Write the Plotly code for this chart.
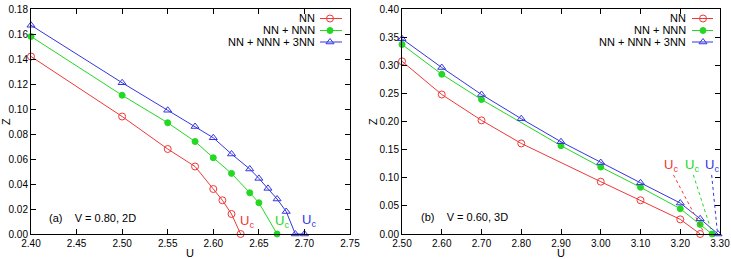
import plotly.graph_objects as go

W, H = 731, 259

# ---------------- data: panel (a) V = 0.80, 2D ----------------
a_nn_u = [2.40, 2.50, 2.55, 2.58, 2.60, 2.61, 2.62, 2.63]
a_nn_z = [0.142, 0.094, 0.068, 0.054, 0.036, 0.027, 0.016, 0.000]
a_nnn_u = [2.40, 2.50, 2.55, 2.58, 2.60, 2.62, 2.64, 2.65, 2.67]
a_nnn_z = [0.158, 0.111, 0.089, 0.074, 0.061, 0.0485, 0.033, 0.025, 0.000]
a_3nn_u = [2.40, 2.50, 2.55, 2.58, 2.60, 2.62, 2.64, 2.65, 2.66, 2.67, 2.68, 2.69, 2.70]
a_3nn_z = [0.167, 0.121, 0.099, 0.086, 0.077, 0.064, 0.052, 0.0445, 0.0365, 0.028, 0.018, 0.000, 0.000]

# ---------------- data: panel (b) V = 0.60, 3D ----------------
b_nn_u = [2.50, 2.60, 2.70, 2.80, 3.00, 3.10, 3.20, 3.25]
b_nn_z = [0.307, 0.248, 0.202, 0.161, 0.093, 0.060, 0.026, 0.000]
b_nnn_u = [2.50, 2.60, 2.70, 2.90, 3.00, 3.10, 3.20, 3.25, 3.28]
b_nnn_z = [0.337, 0.284, 0.239, 0.157, 0.119, 0.083, 0.045, 0.017, 0.000]
b_3nn_u = [2.50, 2.60, 2.70, 2.80, 2.90, 3.00, 3.10, 3.20, 3.25, 3.295]
b_3nn_z = [0.347, 0.296, 0.248, 0.205, 0.164, 0.127, 0.091, 0.055, 0.027, 0.000]

series_names = ["NN", "NN + NNN", "NN + NNN + 3NN"]
colors = ["#f03838", "#22d822", "#3535e0"]
symbols = ["circle-open", "circle", "triangle-up-open"]
msizes = [7, 6, 7]

a_ticks_x = [2.40, 2.45, 2.50, 2.55, 2.60, 2.65, 2.70, 2.75]
a_ticks_y = [0.00, 0.02, 0.04, 0.06, 0.08, 0.10, 0.12, 0.14, 0.16, 0.18]
b_ticks_x = [2.50, 2.60, 2.70, 2.80, 2.90, 3.00, 3.10, 3.20, 3.30]
b_ticks_y = [0.00, 0.05, 0.10, 0.15, 0.20, 0.25, 0.30, 0.35, 0.40]

# Uc label positions (data coords)
a_uc_x = [2.637, 2.675, 2.705]
a_uc_y = [0.0098, 0.0098, 0.011]
b_uc_x = [3.177, 3.229, 3.280]
b_uc_y = [0.121, 0.121, 0.121]
# dotted guide lines in panel (b): start (below label) -> end (Uc point)
b_dot_x0 = [3.183, 3.233, 3.279]
b_dot_y0 = [0.105, 0.105, 0.105]
b_dot_x1 = [3.257, 3.278, 3.293]
b_dot_y1 = [0.006, 0.006, 0.006]

FONT = "Liberation Sans, Arial, sans-serif"

fig = go.Figure()

panels = [
    ("x", "y", [(a_nn_u, a_nn_z), (a_nnn_u, a_nnn_z), (a_3nn_u, a_3nn_z)]),
    ("x2", "y2", [(b_nn_u, b_nn_z), (b_nnn_u, b_nnn_z), (b_3nn_u, b_3nn_z)]),
]
for xa, ya, data in panels:
    for i, (u, z) in enumerate(data):
        fig.add_trace(go.Scatter(
            x=u, y=z, xaxis=xa, yaxis=ya, mode="lines+markers",
            name=series_names[i], showlegend=False,
            line=dict(color=colors[i], width=1),
            marker=dict(symbol=symbols[i], size=msizes[i], color=colors[i],
                        line=dict(color=colors[i], width=1)),
            cliponaxis=False,
        ))

# manual legend (symbol on the right of right-aligned text), pixel overlay axis
leg_rows = [18.5, 30.5, 42]
leg_sets = [(317, 320, 342, 330), (688, 692, 713, 703)]
annotations = []
for (tx, lx0, lx1, mx) in leg_sets:
    for i, yy in enumerate(leg_rows):
        fig.add_trace(go.Scatter(
            x=[lx0, lx1], y=[yy, yy], xaxis="x3", yaxis="y3", mode="lines",
            line=dict(color=colors[i], width=1), showlegend=False, hoverinfo="skip"))
        fig.add_trace(go.Scatter(
            x=[mx], y=[yy], xaxis="x3", yaxis="y3", mode="markers",
            marker=dict(symbol=symbols[i], size=msizes[i], color=colors[i],
                        line=dict(color=colors[i], width=1)),
            showlegend=False, hoverinfo="skip"))
        annotations.append(dict(
            x=tx / W, y=1 - yy / H, xref="paper", yref="paper",
            xanchor="right", yanchor="middle", showarrow=False,
            text=series_names[i], font=dict(family=FONT, size=11, color="#000")))

# Uc labels
for xs, ys, xr, yr in [(a_uc_x, a_uc_y, "x", "y"), (b_uc_x, b_uc_y, "x2", "y2")]:
    for i in range(3):
        annotations.append(dict(
            x=xs[i], y=ys[i], xref=xr, yref=yr, showarrow=False,
            xanchor="center", yanchor="middle",
            text="U<sub>c</sub>", font=dict(family=FONT, size=13, color=colors[i])))

shapes = []
for i in range(3):
    shapes.append(dict(type="line", xref="x2", yref="y2",
                       x0=b_dot_x0[i], y0=b_dot_y0[i], x1=b_dot_x1[i], y1=b_dot_y1[i],
                       line=dict(color=colors[i], width=1, dash="dot")))

# panel labels
annotations.append(dict(x=2.418, y=0.013, xref="x", yref="y", showarrow=False,
                        xanchor="left", yanchor="middle",
                        text="(a)&nbsp;&nbsp;&nbsp;&nbsp;V = 0.80, 2D",
                        font=dict(family=FONT, size=11, color="#000")))
annotations.append(dict(x=2.5435, y=0.030, xref="x2", yref="y2", showarrow=False,
                        xanchor="left", yanchor="middle",
                        text="(b)&nbsp;&nbsp;&nbsp;&nbsp;V = 0.60, 3D",
                        font=dict(family=FONT, size=11, color="#000")))

# axis titles
for px, py, txt, ang in [(6, 122, "Z", -90), (373, 122, "Z", -90),
                         (190, 253, "U", 0), (561, 253, "U", 0)]:
    annotations.append(dict(x=px / W, y=1 - py / H, xref="paper", yref="paper",
                            showarrow=False, xanchor="center", yanchor="middle",
                            textangle=ang, text=txt,
                            font=dict(family=FONT, size=11, color="#000")))

ydom = [1 - 234 / H, 1 - 9 / H]
axis_common = dict(showline=True, linecolor="#000", linewidth=1, mirror="ticks",
                   ticks="inside", ticklen=5, tickcolor="#000", tickwidth=1,
                   showgrid=False, zeroline=False, tickformat=".2f",
                   tickfont=dict(family=FONT, size=10, color="#000"),
                   automargin=False)

fig.update_layout(
    width=W, height=H, margin=dict(l=0, r=0, t=0, b=0),
    paper_bgcolor="white", plot_bgcolor="rgba(0,0,0,0)", showlegend=False,
    xaxis=dict(domain=[31 / W, 350 / W], range=[2.40, 2.75], tickvals=a_ticks_x,
               anchor="y", **axis_common),
    yaxis=dict(domain=ydom, range=[0.0, 0.18], tickvals=a_ticks_y, anchor="x", **axis_common),
    xaxis2=dict(domain=[402 / W, 720 / W], range=[2.50, 3.30], tickvals=b_ticks_x,
                anchor="y2", **axis_common),
    yaxis2=dict(domain=ydom, range=[0.0, 0.40], tickvals=b_ticks_y, anchor="x2", **axis_common),
    xaxis3=dict(domain=[0, 1], range=[0, W], visible=False, anchor="y3", fixedrange=True),
    yaxis3=dict(domain=[0, 1], range=[H, 0], visible=False, anchor="x3", fixedrange=True),
    annotations=annotations, shapes=shapes,
)

fig.write_html("out.html")
